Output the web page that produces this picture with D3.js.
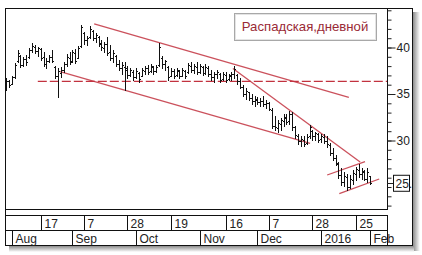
<!DOCTYPE html>
<html><head><meta charset="utf-8">
<script src="https://cdn.jsdelivr.net/npm/d3@7"></script>
<style>
body{margin:0;background:#fff}
svg{display:block}
text{font-family:"Liberation Sans",Arial,sans-serif}
</style>
</head><body>
<svg id="c" width="422" height="255"></svg>
<script>
// ---- data ----
const highs  = [36.7,36.5,36.9,38.3,39.7,39.2,39.0,39.2,39.9,40.5,40.3,40.1,39.9,39.5,38.9,39.2,39.7,38.0,37.8,37.9,38.4,39.3,39.5,39.7,39.8,40.2,42.4,41.7,41.2,42.3,41.9,41.6,41.2,40.8,40.6,41.1,40.3,39.7,39.2,38.7,38.4,38.4,38.0,37.8,37.6,37.8,37.4,37.8,38.0,38.1,38.2,38.0,38.1,40.5,39.1,38.7,38.0,37.8,37.7,37.8,37.6,37.8,37.6,38.3,38.4,38.2,38.4,38.2,38.0,38.2,38.0,37.6,37.4,37.6,37.3,37.4,37.4,37.2,37.4,38.0,37.2,36.7,36.0,35.6,35.2,35.0,34.8,34.7,34.6,34.8,34.4,34.1,33.5,32.6,32.2,32.4,32.8,32.8,33.2,33.1,31.6,30.7,30.5,30.5,30.7,31.7,31.1,30.9,30.8,30.7,30.7,30.5,29.7,29.2,28.4,27.7,27.0,26.6,26.4,26.3,26.8,27.2,27.5,27.0,26.8,27.0,26.2];
const lows   = [35.4,35.8,36.1,36.7,38.4,37.9,38.0,38.1,38.9,39.5,39.4,39.1,38.7,38.0,37.8,38.4,38.4,36.7,34.7,36.8,37.4,38.0,38.2,38.4,38.3,38.9,40.1,40.4,40.3,41.0,40.8,40.6,40.2,39.7,39.5,39.2,38.7,38.4,38.0,37.6,37.2,35.4,36.7,36.9,36.5,36.7,36.3,36.9,37.2,37.2,37.4,37.2,37.4,38.0,37.8,37.6,36.5,36.9,36.7,36.9,36.7,36.9,36.7,37.3,37.4,37.3,37.2,37.3,37.0,37.2,36.9,36.5,36.3,36.7,36.3,36.5,36.3,36.5,36.5,36.7,36.1,35.6,34.8,34.5,34.4,33.9,33.7,33.9,33.7,33.7,33.5,33.3,31.3,31.1,30.9,31.1,31.6,31.8,31.8,31.1,30.3,29.6,29.4,29.4,29.6,30.3,30.1,30.1,29.8,29.8,29.7,29.3,28.4,27.9,27.4,26.0,25.2,25.1,24.7,24.9,25.3,25.7,26.1,25.9,25.7,25.5,25.3];
const opens  = [35.6,36.4,36.1,36.8,38.5,39.1,38.1,38.8,39.0,39.7,40.1,39.6,39.8,39.0,38.2,38.6,39.0,37.9,36.9,37.3,37.6,38.2,38.9,38.5,39.4,38.9,40.2,41.6,40.8,41.1,41.8,41.0,41.1,40.5,40.0,40.4,39.5,38.9,39.1,38.2,37.8,37.9,37.6,37.0,37.4,36.8,37.3,36.9,37.5,37.8,37.5,37.9,37.5,38.1,38.9,38.2,37.9,36.9,37.5,37.0,37.5,36.9,37.5,37.4,38.0,37.6,37.9,37.4,37.9,37.3,37.8,37.2,36.8,37.1,37.2,36.6,37.0,36.6,36.9,37.1,37.0,36.4,35.8,35.0,35.2,34.6,34.2,34.4,34.1,34.2,33.9,34.0,33.3,31.6,31.3,31.8,32.1,32.4,32.1,32.8,31.4,30.5,29.9,30.1,29.7,30.5,31.0,30.5,30.7,30.2,30.4,29.9,29.5,28.7,28.1,27.5,26.3,25.5,26.1,25.0,25.8,26.4,26.8,26.4,26.6,25.9,26.2];
const closes = [36.4,36.0,36.8,38.1,39.4,38.1,38.8,38.4,39.7,40.2,39.6,39.9,38.9,38.2,38.6,39.0,38.5,36.9,37.5,37.6,38.2,39.0,38.4,39.5,38.6,40.0,42.2,40.8,41.0,42.0,41.0,41.3,40.4,40.1,40.4,39.4,38.9,39.4,38.2,37.8,38.1,37.8,37.0,37.6,36.8,37.5,36.6,37.6,37.8,37.4,38.0,37.5,37.9,40.1,38.2,38.5,36.8,37.5,36.9,37.6,36.9,37.6,36.9,38.1,37.6,38.0,37.4,38.0,37.3,37.9,37.2,36.8,37.2,37.4,36.5,37.1,36.5,37.0,37.2,37.7,36.4,35.8,35.0,35.3,34.6,34.2,34.5,34.1,34.3,33.9,34.0,33.4,31.6,31.4,31.9,32.2,32.5,32.0,32.9,31.4,30.6,29.9,30.2,29.6,30.4,31.4,30.5,30.8,30.1,30.5,29.9,29.6,28.7,28.1,27.6,26.3,25.5,26.2,25.0,25.9,26.5,26.9,26.4,26.7,25.9,26.6,25.4];
const firstDay = "2015-07-30";
const holidays = ["2015-11-04","2015-12-31","2016-01-01","2016-01-04","2016-01-07","2016-01-08"];
const weekTicks  = ["2015-08-17","2015-09-07","2015-09-28","2015-10-19","2015-11-16","2015-12-07","2015-12-28","2016-01-25"];
const weekLabels = ["17","7","28","19","16","7","28","25"];
const monthLabels = ["Aug","Sep","Oct","Nov","Dec","2016","Feb"];
const priceTicks = [30,35,40];
const lastPrice = 25.4, lastLabel = "25.";
const level = 36.35;            // dashed support
const trendStarts = [[30.5,42.53],[18.7,37.4],[78.5,37.74],[111.1,26.29],[115.3,24.28]];
const trendEnds   = [[118.6,34.65],[105.2,29.68],[122.5,27.69],[124.2,27.73],[129.1,25.86]];
const title = "Распадская,дневной";

// trading calendar
const fmt = d3.timeFormat("%Y-%m-%d");
const days = d3.timeDay.range(new Date(2015,6,30), new Date(2016,1,10))
  .filter(d => d.getDay()!==0 && d.getDay()!==6 && !holidays.includes(fmt(d)))
  .slice(0, highs.length).map(fmt);
const bars = days.map((d,i)=>({d,i,h:highs[i],l:lows[i],o:opens[i],c:closes[i]}));

const svg = d3.select("#c");
// shadow
const defs = svg.append("defs");
const gr = defs.append("linearGradient").attr("id","sr").attr("x1",0).attr("x2",1).attr("y1",0).attr("y2",0);
gr.append("stop").attr("offset",0).attr("stop-color","#8c8c8c");
gr.append("stop").attr("offset",1).attr("stop-color","#fff");
const gb = defs.append("linearGradient").attr("id","sb").attr("x1",0).attr("x2",0).attr("y1",0).attr("y2",1);
gb.append("stop").attr("offset",0).attr("stop-color","#8c8c8c");
gb.append("stop").attr("offset",1).attr("stop-color","#fff");
svg.append("rect").attr("x",413).attr("y",12).attr("width",7).attr("height",239).attr("fill","url(#sr)");
svg.append("rect").attr("x",9).attr("y",246).attr("width",405).attr("height",6).attr("fill","url(#sb)");

// frame
svg.append("rect").attr("x",5.5).attr("y",8.5).attr("width",407).attr("height",237).attr("fill","#fff").attr("stroke","#111");

const x = d3.scaleLinear().domain([0,131.8]).range([6,387]);
const y = d3.scaleLinear().domain([25,40]).range([187,47.5]);
const idx = d => days.indexOf(d);

// legend
svg.append("rect").attr("x",234.5).attr("y",13.5).attr("width",142).attr("height",27).attr("fill","#fff").attr("stroke","#a8a8a8");
svg.append("rect").attr("x",235.5).attr("y",14.5).attr("width",140).attr("height",25).attr("fill","none").attr("stroke","#e4e4e4");
svg.append("text").attr("x",305).attr("y",30.5).attr("text-anchor","middle").attr("font-size",13.2)
  .attr("fill","#9a2a36").text(title);

// plot clip
defs.append("clipPath").attr("id","pc").append("rect").attr("x",6).attr("y",9).attr("width",381).attr("height",200);
const plot = svg.append("g").attr("clip-path","url(#pc)");

const red = "#c2323f";
plot.append("line").attr("x1",x(11)).attr("x2",387).attr("y1",y(level)).attr("y2",y(level))
  .attr("stroke",red).attr("stroke-width",1.2).attr("stroke-dasharray","9,3");
plot.selectAll("line.tr").data(trendStarts.map((s,k)=>[s,trendEnds[k]])).join("line").attr("class","tr")
  .attr("x1",d=>x(d[0][0])).attr("y1",d=>y(d[0][1])).attr("x2",d=>x(d[1][0])).attr("y2",d=>y(d[1][1]))
  .attr("stroke",red).attr("stroke-width",1.3).attr("stroke-opacity",0.85);

// bars
const bg = plot.append("g").attr("stroke","#111").attr("stroke-width",1).attr("shape-rendering","crispEdges");
const bx = d => Math.round(x(d.i))+0.5;
bg.selectAll("line.v").data(bars).join("line").attr("class","v")
  .attr("x1",bx).attr("x2",bx).attr("y1",d=>y(d.h)).attr("y2",d=>y(d.l)+1);
bg.selectAll("line.o").data(bars).join("line").attr("class","o")
  .attr("x1",d=>bx(d)-1.5).attr("x2",d=>bx(d)).attr("y1",d=>Math.round(y(d.o))+0.5).attr("y2",d=>Math.round(y(d.o))+0.5);
bg.selectAll("line.c").data(bars).join("line").attr("class","c")
  .attr("x1",d=>bx(d)).attr("x2",d=>bx(d)+1.5).attr("y1",d=>Math.round(y(d.c))+0.5).attr("y2",d=>Math.round(y(d.c))+0.5);

// plot bottom line and right axis
svg.append("line").attr("x1",5).attr("x2",388).attr("y1",209.5).attr("y2",209.5).attr("stroke","#111");
const minor = d3.axisRight(y).tickValues(d3.range(23,45)).tickSize(4).tickFormat("");
const ga = svg.append("g").attr("transform","translate(387.5,0)").call(minor);
ga.select(".domain").attr("d","M0,8V209").attr("stroke","#111");
ga.selectAll(".tick line").attr("stroke","#222");
const major = d3.axisRight(y).tickValues(priceTicks).tickSize(8).tickPadding(1).tickFormat(d3.format("d"));
const gm = svg.append("g").attr("transform","translate(387.5,0)").call(major);
gm.select(".domain").remove();
gm.selectAll(".tick line").attr("stroke","#222");
gm.selectAll(".tick text").attr("font-size",12).attr("fill","#222").attr("font-family","Liberation Sans, Arial, sans-serif");

// last price marker
svg.append("line").attr("x1",387).attr("x2",394).attr("y1",Math.round(y(lastPrice))+0.5).attr("y2",Math.round(y(lastPrice))+0.5).attr("stroke","#222");
svg.append("rect").attr("x",393.5).attr("y",y(lastPrice)-8).attr("width",16).attr("height",16).attr("fill","#fff").attr("stroke","#111");
svg.append("text").attr("x",395.5).attr("y",y(lastPrice)+4.5).attr("font-size",12).attr("fill","#222").text(lastLabel);

// date rows
const rows = svg.append("g").attr("stroke","#111").attr("shape-rendering","crispEdges");
[215.5,230.5].forEach(v=>rows.append("line").attr("x1",5).attr("x2",388).attr("y1",v).attr("y2",v));
rows.append("line").attr("x1",387.5).attr("x2",387.5).attr("y1",215).attr("y2",245);
const wx = weekTicks.map(d=>Math.round(x(idx(d)))+0.5);
rows.selectAll("line.w").data(wx).join("line").attr("class","w").attr("x1",d=>d).attr("x2",d=>d).attr("y1",215).attr("y2",230);
svg.selectAll("text.w").data(weekLabels).join("text").attr("class","w")
  .attr("x",(d,k)=>wx[k]+3).attr("y",227.5).attr("font-size",12).attr("fill","#222").text(d=>d);
// month starts
const monthStarts = [];
days.forEach((d,i)=>{ if(i>0 && d.slice(5,7)!==days[i-1].slice(5,7)) monthStarts.push(i); });
const mx = monthStarts.map(i=>Math.round(x(i))+0.5);
rows.selectAll("line.m").data(mx).join("line").attr("class","m").attr("x1",d=>d).attr("x2",d=>d).attr("y1",230).attr("y2",245);
svg.selectAll("text.m").data(monthLabels).join("text").attr("class","m")
  .attr("x",(d,k)=>mx[k]+3).attr("y",242.5).attr("font-size",12).attr("fill","#222").text(d=>d);
</script>
</body></html>
